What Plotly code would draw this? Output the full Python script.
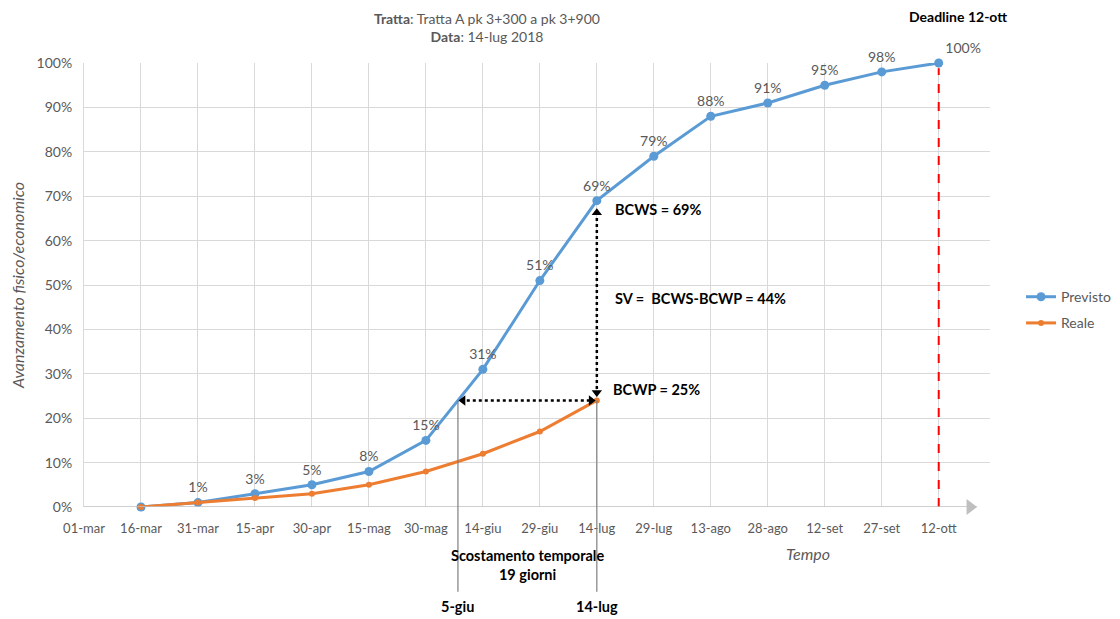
import plotly.graph_objects as go

categories = ["01-mar", "16-mar", "31-mar", "15-apr", "30-apr", "15-mag", "30-mag", "14-giu",
              "29-giu", "14-lug", "29-lug", "13-ago", "28-ago", "12-set", "27-set", "12-ott"]
previsto = [None, 0, 1, 3, 5, 8, 15, 31, 51, 69, 79, 88, 91, 95, 98, 100]
reale = [None, 0, 1, 2, 3, 5, 8, 12, 17, 24, None, None, None, None, None, None]
bcws = 69
bcwp = 25

FONT = "Lato"
GRAY = "#595959"
BLUE = "#5B9BD5"
ORANGE = "#ED7D31"

xs = list(range(len(categories)))
i_lug = categories.index("14-lug")
i_dead = categories.index("12-ott")
reale_now = reale[i_lug] / 100
# x position where planned curve reaches current actual value (5-giu)
x_giu = None
for i in range(1, len(previsto) - 1):
    a, b = previsto[i], previsto[i + 1]
    if a is not None and b is not None and a <= reale[i_lug] <= b:
        x_giu = i + (reale[i_lug] - a) / (b - a)
        break

fig = go.Figure()

prev_y = [None if v is None else v / 100 for v in previsto]
prev_text = ["" if (v is None or v == 0) else f"{v}%" for v in previsto]
prev_pos = ["top center"] * len(previsto)
prev_pos[-1] = "top right"

# deadline dashed red line
fig.add_shape(type="line", x0=i_dead, x1=i_dead, y0=0, y1=previsto[i_dead] / 100 - 0.012,
              line=dict(color="#FF0000", width=2, dash="dash"))

fig.add_trace(go.Scatter(
    x=xs, y=prev_y, name="Previsto", mode="lines+markers+text", legendgroup="p",
    text=prev_text, textposition=prev_pos,
    textfont=dict(family=FONT, size=14, color=GRAY),
    line=dict(color=BLUE, width=3), marker=dict(size=9, color=BLUE),
    cliponaxis=False,
))
fig.add_trace(go.Scatter(
    x=xs, y=[None if v is None else v / 100 for v in reale], name="Reale",
    mode="lines+markers", legendgroup="r",
    line=dict(color=ORANGE, width=3), marker=dict(size=6, color=ORANGE),
    cliponaxis=False,
))

# x axis line and arrow
fig.add_shape(type="line", x0=0, x1=15.67, y0=0, y1=0, line=dict(color="#BFBFBF", width=1.5))
fig.add_trace(go.Scatter(x=[15.55], y=[0], mode="markers", showlegend=False, hoverinfo="skip",
                         marker=dict(symbol="triangle-right", size=14, color="#BFBFBF"),
                         cliponaxis=False))

# thin gray vertical lines for 5-giu and 14-lug
for xv in [x_giu, i_lug]:
    fig.add_shape(type="line", x0=xv, x1=xv, y0=reale_now, y1=-0.191, yref="paper",
                  line=dict(color="#7F7F7F", width=1.2))

# dotted arrows
fig.add_shape(type="line", x0=i_lug, x1=i_lug, y0=reale_now + 0.012, y1=bcws / 100 - 0.02,
              line=dict(color="black", width=2.5, dash="dot"))
fig.add_shape(type="line", x0=x_giu + 0.05, x1=i_lug - 0.05, y0=reale_now, y1=reale_now,
              line=dict(color="black", width=2.5, dash="dot"))
fig.add_trace(go.Scatter(
    x=[i_lug, i_lug, x_giu + 0.09, i_lug - 0.1],
    y=[bcws / 100 - 0.027, reale_now + 0.018, reale_now, reale_now],
    mode="markers", showlegend=False, hoverinfo="skip", cliponaxis=False,
    marker=dict(symbol=["triangle-up", "triangle-down", "triangle-left", "triangle-right"],
                size=9, color="black")))

BOLD = dict(family=FONT, size=14.5, color="black")
annotations = [
    dict(x=0.445, y=1.079, xref="paper", yref="paper", showarrow=False, yanchor="middle",
         text="<b>Tratta</b>: Tratta A pk 3+300 a pk 3+900<br><b>Data</b>: 14-lug 2018",
         font=dict(family=FONT, size=14, color=GRAY), align="center"),
    dict(x=i_dead + 0.33, y=1.105, yref="paper", showarrow=False, yanchor="middle",
         text="<b>Deadline 12-ott</b>", font=dict(family=FONT, size=14, color="black")),
    dict(x=i_lug + 0.28, y=bcws / 100 - 0.02, showarrow=False, xanchor="left", yanchor="middle",
         text="<b>BCWS = 69%</b>", font=BOLD),
    dict(x=i_lug + 0.28, y=0.47, showarrow=False, xanchor="left", yanchor="middle",
         text="<b>SV =  BCWS-BCWP = 44%</b>", font=BOLD),
    dict(x=i_lug + 0.25, y=reale_now + 0.025, showarrow=False, xanchor="left", yanchor="middle",
         text="<b>BCWP = 25%</b>", font=BOLD),
    dict(x=(x_giu + i_lug) / 2, y=-0.131, yref="paper", showarrow=False, yanchor="middle",
         text="<b>Scostamento temporale<br>19 giorni</b>", font=BOLD),
    dict(x=x_giu, y=-0.225, yref="paper", showarrow=False, yanchor="middle",
         text="<b>5-giu</b>", font=BOLD),
    dict(x=i_lug, y=-0.225, yref="paper", showarrow=False, yanchor="middle",
         text="<b>14-lug</b>", font=BOLD),
    dict(x=12.7, y=-0.104, yref="paper", showarrow=False, yanchor="middle",
         text="<i>Tempo</i>", font=dict(family=FONT, size=16, color=GRAY)),
]

# page body has an 8px margin: figure is drawn 8px right/down
fig.update_layout(
    width=1112, height=611,
    margin=dict(l=76, r=130, t=55, b=112),
    paper_bgcolor="white", plot_bgcolor="white",
    font=dict(family=FONT, color=GRAY),
    annotations=annotations,
    legend=dict(x=0.911, y=0.553, xref="container", yref="container",
                xanchor="left", yanchor="top", traceorder="grouped",
                tracegroupgap=5, font=dict(family=FONT, size=14, color=GRAY)),
    showlegend=True,
)
fig.update_xaxes(range=[0, 15.9], tickvals=xs, ticktext=categories, showgrid=True,
                 gridcolor="#D9D9D9", gridwidth=1, zeroline=False, showline=False,
                 tickfont=dict(family=FONT, size=13, color=GRAY), ticks="",
                 ticklabelstandoff=12, automargin=False)
fig.update_yaxes(range=[0, 1], dtick=0.1, tickformat=".0%", showgrid=True,
                 gridcolor="#D9D9D9", gridwidth=1, zeroline=False, showline=True,
                 linecolor="#D9D9D9", linewidth=1, automargin=False,
                 tickfont=dict(family=FONT, size=14, color=GRAY), ticks="",
                 ticklabelstandoff=8,
                 title=dict(text="<i>Avanzamento fisico/economico</i>",
                            font=dict(family=FONT, size=16, color=GRAY), standoff=14))

fig.write_html("out.html")
